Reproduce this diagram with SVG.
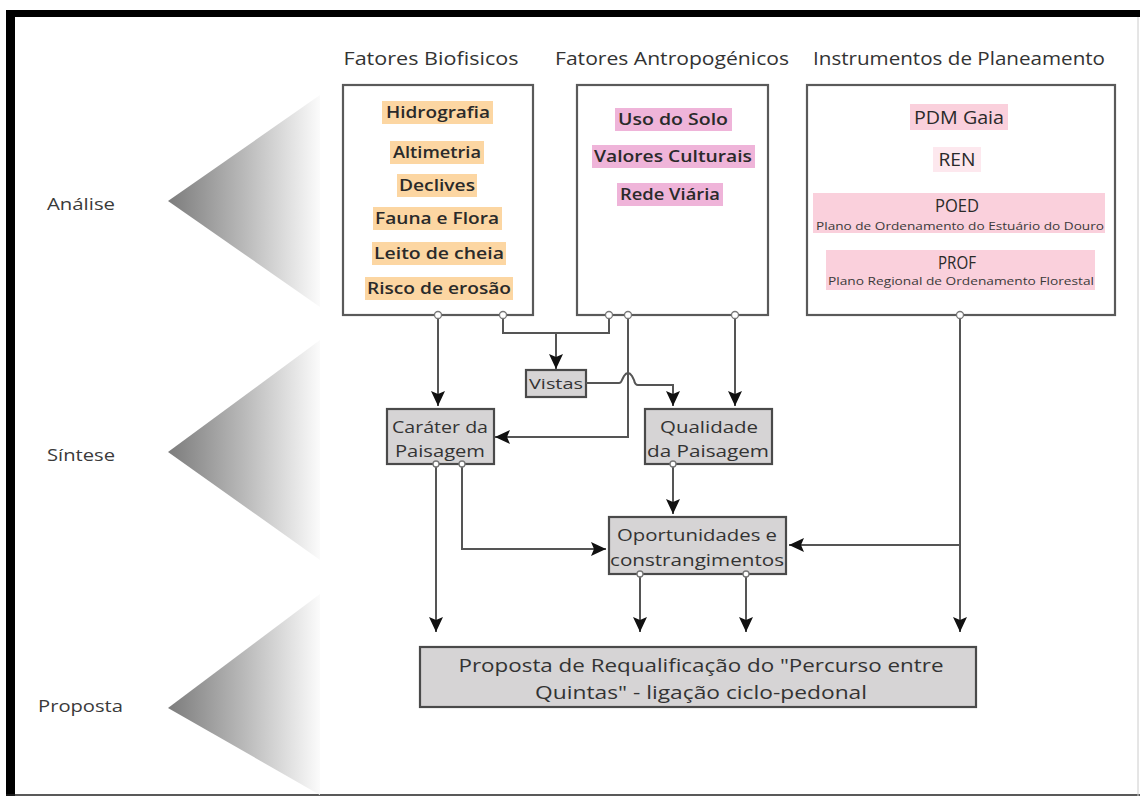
<svg xmlns="http://www.w3.org/2000/svg" width="1140" height="796" viewBox="0 0 1140 796">
<style>
  text { font-family: "Open Sans", "Liberation Sans", sans-serif; fill: #2e2e2e; }
  .hdr { font-size: 18px; text-anchor: middle; fill: #333; }
  .lbl { font-size: 17px; fill: #3a3a3a; }
  .item { font-size: 17px; text-anchor: middle; font-weight: 600; fill: #2a2a2a; }
  .sub { font-size: 10.5px; text-anchor: middle; fill: #3a3a3a; }
  .big { font-size: 19px; text-anchor: middle; fill: #2a2a2a; }
  .ntx { font-size: 17px; text-anchor: middle; fill: #333; }
  .box { fill: #fff; stroke: #5a5a5a; stroke-width: 2.2; }
  .gbox { fill: #d6d4d5; stroke: #4a4a4a; stroke-width: 2.2; }
  .hlo { fill: #fcd6a2; }
  .hlp { fill: #efb4d9; }
  .hlr { fill: #fad0dc; }
  .con { fill: none; stroke: #555; stroke-width: 2; }
  .arr { fill: none; stroke: #555; stroke-width: 2; marker-end: url(#ah); }
  .dot { fill: #fff; stroke: #777; stroke-width: 1.3; }
</style>
<defs>
  <linearGradient id="tg" x1="0" y1="0" x2="1" y2="0">
    <stop offset="0" stop-color="#7c7c7c"/>
    <stop offset="0.5" stop-color="#b9b9b9"/>
    <stop offset="1" stop-color="#fbfbfb"/>
  </linearGradient>
  <marker id="ah" markerUnits="userSpaceOnUse" markerWidth="16" markerHeight="14" refX="15" refY="7" orient="auto">
    <path d="M0,0 L15,7 L0,14 L3,7 z" fill="#111"/>
  </marker>
</defs>

<rect x="0" y="0" width="1140" height="796" fill="#fff"/>

<!-- frame -->
<g id="frame">
  <rect x="6" y="10" width="1134" height="7" fill="#000"/>
  <rect x="6" y="10" width="9" height="786" fill="#000"/>
  <line x1="6" y1="795" x2="1140" y2="795" stroke="#222" stroke-width="1.5"/>
  <line x1="1138" y1="17" x2="1138" y2="796" stroke="#ccc" stroke-width="1"/>
</g>

<!-- phase triangles -->
<g id="phase-analise">
  <polygon points="168,201 320,95 320,307" fill="url(#tg)"/>
  <text class="lbl" x="47" y="210" textLength="68" lengthAdjust="spacingAndGlyphs">Análise</text>
</g>
<g id="phase-sintese">
  <polygon points="168,452 320,340 320,560" fill="url(#tg)"/>
  <text class="lbl" x="47" y="461" textLength="68" lengthAdjust="spacingAndGlyphs">Síntese</text>
</g>
<g id="phase-proposta">
  <polygon points="168,708 320,594 320,795" fill="url(#tg)"/>
  <text class="lbl" x="38" y="712" textLength="85" lengthAdjust="spacingAndGlyphs">Proposta</text>
</g>

<!-- headers -->
<g id="headers">
  <text class="hdr" x="431" y="65" textLength="175" lengthAdjust="spacingAndGlyphs">Fatores Biofisicos</text>
  <text class="hdr" x="672" y="65" textLength="234" lengthAdjust="spacingAndGlyphs">Fatores Antropogénicos</text>
  <text class="hdr" x="959" y="65" textLength="292" lengthAdjust="spacingAndGlyphs">Instrumentos de Planeamento</text>
</g>

<!-- Box 1 -->
<g id="fatores-biofisicos">
  <rect class="box" x="343" y="85" width="190" height="230"/>
  <rect class="hlo" x="382" y="101" width="111" height="23"/>
  <rect class="hlo" x="390" y="141" width="94" height="23"/>
  <rect class="hlo" x="397" y="174" width="80" height="23"/>
  <rect class="hlo" x="373" y="207" width="129" height="23"/>
  <rect class="hlo" x="372" y="242" width="134" height="23"/>
  <rect class="hlo" x="365" y="277" width="148" height="23"/>
  <text class="item" x="438" y="118" textLength="104" lengthAdjust="spacingAndGlyphs">Hidrografia</text>
  <text class="item" x="437" y="158" textLength="88" lengthAdjust="spacingAndGlyphs">Altimetria</text>
  <text class="item" x="437" y="191" textLength="76" lengthAdjust="spacingAndGlyphs">Declives</text>
  <text class="item" x="437" y="224" textLength="124" lengthAdjust="spacingAndGlyphs">Fauna e Flora</text>
  <text class="item" x="439" y="259" textLength="130" lengthAdjust="spacingAndGlyphs">Leito de cheia</text>
  <text class="item" x="439" y="294" textLength="144" lengthAdjust="spacingAndGlyphs">Risco de erosão</text>
</g>

<!-- Box 2 -->
<g id="fatores-antropogenicos">
  <rect class="box" x="577" y="85" width="191" height="230"/>
  <rect class="hlp" x="615" y="108" width="117" height="23"/>
  <rect class="hlp" x="592" y="145" width="163" height="23"/>
  <rect class="hlp" x="617" y="183" width="106" height="23"/>
  <text class="item" x="673" y="125" textLength="110" lengthAdjust="spacingAndGlyphs">Uso do Solo</text>
  <text class="item" x="673" y="162" textLength="158" lengthAdjust="spacingAndGlyphs">Valores Culturais</text>
  <text class="item" x="670" y="200" textLength="100" lengthAdjust="spacingAndGlyphs">Rede Viária</text>
</g>

<!-- Box 3 -->
<g id="instrumentos-planeamento">
  <rect class="box" x="807" y="85" width="308" height="230"/>
  <rect class="hlr" x="910" y="104" width="98" height="26"/>
  <rect fill="#fde8ee" x="933" y="147" width="48" height="25"/>
  <rect class="hlr" x="813" y="193" width="292" height="40"/>
  <rect class="hlr" x="826" y="250" width="269" height="40"/>
  <text class="big" x="959" y="124" textLength="90" lengthAdjust="spacingAndGlyphs">PDM Gaia</text>
  <text class="big" x="957" y="166" textLength="37" lengthAdjust="spacingAndGlyphs">REN</text>
  <text class="big" x="957" y="212" textLength="44" lengthAdjust="spacingAndGlyphs">POED</text>
  <text class="sub" x="960" y="230" textLength="288" lengthAdjust="spacingAndGlyphs">Plano de Ordenamento do Estuário do Douro</text>
  <text class="big" x="957" y="269" textLength="38" lengthAdjust="spacingAndGlyphs">PROF</text>
  <text class="sub" x="961" y="285" textLength="266" lengthAdjust="spacingAndGlyphs">Plano Regional de Ordenamento Florestal</text>
</g>

<!-- Synthesis nodes -->
<g id="vistas">
  <rect class="gbox" x="526" y="370" width="60" height="27"/>
  <text class="ntx" x="556" y="389" style="font-size:15px" textLength="54" lengthAdjust="spacingAndGlyphs">Vistas</text>
</g>
<g id="carater-paisagem">
  <rect class="gbox" x="387" y="409" width="107" height="55"/>
  <text class="ntx" x="440" y="433" textLength="96" lengthAdjust="spacingAndGlyphs">Caráter da</text>
  <text class="ntx" x="440" y="457" textLength="90" lengthAdjust="spacingAndGlyphs">Paisagem</text>
</g>
<g id="qualidade-paisagem">
  <rect class="gbox" x="645" y="409" width="127" height="55"/>
  <text class="ntx" x="709" y="433" textLength="98" lengthAdjust="spacingAndGlyphs">Qualidade</text>
  <text class="ntx" x="708" y="457" textLength="122" lengthAdjust="spacingAndGlyphs">da Paisagem</text>
</g>
<g id="oportunidades">
  <rect class="gbox" x="609" y="517" width="177" height="57"/>
  <text class="ntx" x="697" y="541" textLength="160" lengthAdjust="spacingAndGlyphs">Oportunidades e</text>
  <text class="ntx" x="697" y="566" textLength="174" lengthAdjust="spacingAndGlyphs">constrangimentos</text>
</g>

<!-- Proposal -->
<g id="proposta-requalificacao">
  <rect class="gbox" x="420" y="647" width="556" height="60"/>
  <text class="ntx" x="701" y="672" style="font-size:18.5px" textLength="485" lengthAdjust="spacingAndGlyphs">Proposta de Requalificação do "Percurso entre</text>
  <text class="ntx" x="701" y="699" style="font-size:18.5px" textLength="332" lengthAdjust="spacingAndGlyphs">Quintas" - ligação ciclo-pedonal</text>
</g>

<!-- connectors -->
<g id="connectors">
  <path class="arr" d="M438,315 V406"/>
  <path class="con" d="M503,315 V333 H609 V315"/>
  <path class="arr" d="M556,333 V369"/>
  <path class="arr" d="M628,315 V437 H495"/>
  <path class="arr" d="M586,383 H619 Q621,383 622,380 L624,376 Q628,370 632,376 L634,380 Q635,385 638,385 H673 V406"/>
  <path class="arr" d="M735,315 V406"/>
  <path class="arr" d="M436,464 V632"/>
  <path class="arr" d="M462,464 V549 H606"/>
  <path class="arr" d="M673,464 V514"/>
  <path class="arr" d="M960,315 V632"/>
  <path class="arr" d="M960,545 H789"/>
  <path class="arr" d="M640,574 V632"/>
  <path class="arr" d="M746,574 V632"/>
  <circle class="dot" cx="438" cy="315" r="3.5"/>
  <circle class="dot" cx="503" cy="315" r="3.5"/>
  <circle class="dot" cx="609" cy="315" r="3.5"/>
  <circle class="dot" cx="628" cy="315" r="3.5"/>
  <circle class="dot" cx="735" cy="315" r="3.5"/>
  <circle class="dot" cx="960" cy="315" r="3.5"/>
  <circle class="dot" cx="436" cy="464" r="3"/>
  <circle class="dot" cx="462" cy="464" r="3"/>
  <circle class="dot" cx="673" cy="464" r="3"/>
  <circle class="dot" cx="640" cy="574" r="3"/>
  <circle class="dot" cx="746" cy="574" r="3"/>
</g>
</svg>
